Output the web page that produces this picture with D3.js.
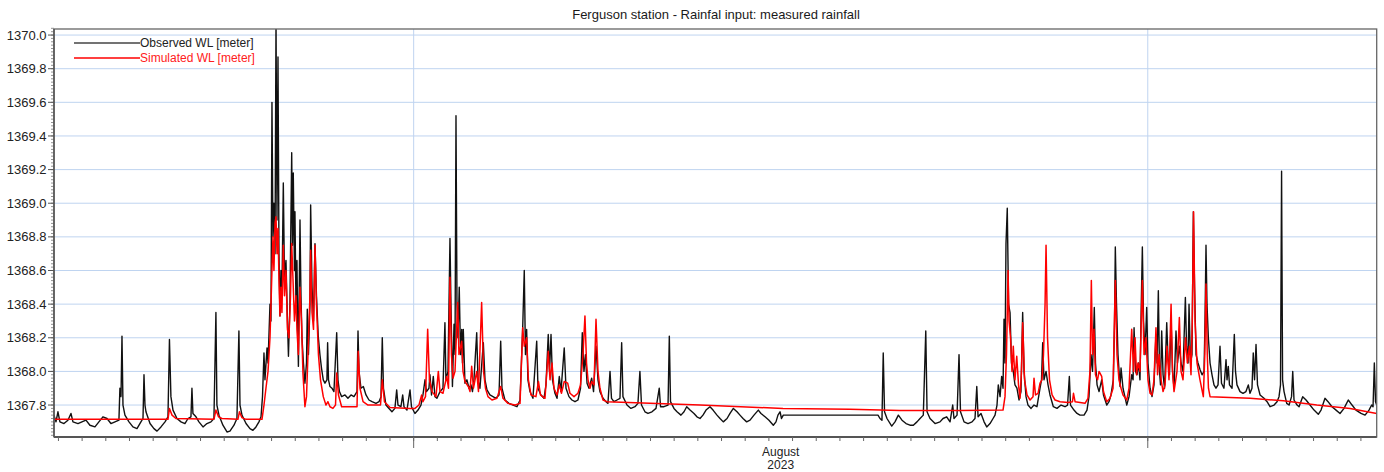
<!DOCTYPE html>
<meta charset="utf-8">
<head>
  <title>Ferguson station - Rainfal input: measured rainfall</title>
</head>
<script src="https://d3js.org/d3.v7.min.js"></script>
<style>
  body { margin: 0; background: #fff; }
  svg text { font-family: "Liberation Sans", Arial, sans-serif; }
</style>
<div id="chart"></div>
<script>

// time of each reading in hours after 2023-07-16 00:00, water level in meters
var obsHours = [19.5,21.5,23.5,25.5,29.6,33.6,36.7,38.7,43.8,47.8,51.9,55.9,61.0,65.0,69.1,73.2,77.2,81.3,85.3,86.3,87.4,88.4,89.4,91.4,95.5,99.5,103.6,107.6,109.7,110.7,111.7,112.7,116.8,120.8,123.9,127.9,132.0,135.0,136.5,138.0,140.1,144.1,148.2,152.2,155.3,158.3,159.3,160.3,163.4,166.4,170.5,174.5,178.6,181.6,183.6,184.6,186.7,190.7,194.8,197.8,201.9,204.9,206.9,208.0,210.0,214.1,218.1,221.1,224.2,227.2,229.3,230.8,232.3,233.3,235.4,236.4,238.4,239.4,240.4,241.4,242.4,243.5,244.5,245.5,246.5,247.5,248.5,249.5,250.5,251.9,253.1,254.6,256.1,257.1,258.6,260.4,261.2,262.0,263.2,263.7,264.7,265.7,266.7,267.2,268.8,269.8,270.8,272.3,273.8,275.4,276.2,277.4,278.9,279.6,281.0,282.5,284.0,285.5,287.3,289.0,290.6,292.4,294.1,296.1,296.8,297.7,299.2,301.2,303.2,306.0,307.3,308.8,311.0,314.4,317.4,320.5,323.5,326.6,327.6,328.6,330.6,333.0,335.7,338.7,341.8,345.8,348.9,350.9,352.2,353.4,355.9,359.0,362.0,365.0,366.8,368.1,371.1,372.9,374.2,377.2,380.3,381.8,385.3,388.4,391.4,393.4,395.5,397.0,399.5,400.5,402.1,403.9,405.6,407.6,410.7,413.7,415.7,416.7,418.8,420.8,421.8,423.3,424.9,425.9,426.9,427.9,428.9,430.2,431.5,432.7,433.5,434.3,436.0,438.0,440.1,442.1,443.6,445.1,447.9,449.2,451.2,454.6,456.3,458.3,461.3,464.4,467.4,470.5,472.2,473.5,476.5,480.6,484.7,488.7,491.8,494.5,496.1,497.3,498.5,499.8,501.9,504.9,508.7,510.0,513.0,516.1,518.1,520.4,521.7,523.2,524.7,527.2,529.3,531.6,533.3,536.6,538.4,541.4,544.4,547.5,550.5,553.1,554.9,556.6,558.1,559.7,561.7,564.4,566.3,568.8,570.8,572.8,575.9,578.9,580.9,583.0,584.5,587.0,590.1,593.1,594.8,596.1,600.2,604.2,608.3,611.3,613.3,614.9,618.4,621.5,625.5,629.6,632.9,634.2,637.7,641.8,643.1,644.3,647.8,650.9,654.9,658.0,660.7,664.1,668.1,671.1,674.2,677.2,680.3,684.3,687.4,691.4,694.5,697.8,701.6,704.6,708.0,711.7,714.7,717.8,721.5,724.9,728.9,733.3,736.0,740.1,744.1,748.5,751.2,753.2,755.3,756.8,758.6,854.6,856.6,858.6,859.9,861.2,863.7,868.5,871.8,875.2,878.9,883.0,887.0,890.4,894.1,897.2,900.5,903.0,904.3,907.3,912.4,917.4,920.5,924.2,927.6,930.3,931.6,934.7,936.7,938.2,941.8,945.8,949.9,952.9,954.7,956.0,959.0,962.1,964.8,968.1,971.2,973.2,975.2,976.5,978.3,979.9,981.3,982.3,983.3,984.3,985.6,986.9,988.4,989.9,991.7,993.4,995.4,997.5,999.5,1001.2,1002.6,1004.6,1006.6,1009.7,1012.7,1015.7,1018.8,1020.3,1021.5,1022.8,1024.9,1026.9,1028.9,1032.3,1036.0,1040.1,1044.1,1046.7,1048.5,1049.7,1053.2,1056.3,1059.3,1063.4,1066.4,1068.4,1070.5,1072.0,1073.8,1075.0,1076.6,1078.6,1081.3,1083.1,1086.4,1088.7,1090.7,1093.1,1094.3,1095.1,1096.3,1097.8,1099.9,1100.9,1102.9,1106.7,1109.0,1111.7,1113.1,1114.1,1115.6,1117.1,1118.6,1120.1,1121.4,1122.5,1123.7,1125.2,1126.9,1128.2,1130.3,1132.3,1134.3,1136.3,1137.4,1138.7,1139.9,1140.9,1142.1,1143.5,1145.0,1147.2,1148.5,1150.0,1151.6,1153.1,1154.6,1156.6,1158.1,1160.0,1161.7,1163.7,1166.1,1167.3,1168.8,1169.8,1171.3,1172.8,1174.2,1175.4,1176.9,1178.9,1181.0,1183.0,1185.0,1186.0,1187.0,1188.0,1189.4,1191.1,1193.1,1195.1,1197.1,1199.2,1201.2,1202.7,1205.2,1207.3,1208.3,1209.6,1210.8,1213.4,1215.7,1216.9,1218.4,1221.5,1224.5,1227.5,1229.9,1231.6,1233.6,1234.9,1236.2,1237.7,1239.2,1241.8,1245.8,1248.9,1251.9,1256.0,1259.0,1261.0,1262.5,1263.6,1264.6,1266.1,1268.8,1271.2,1273.7,1274.9,1276.2,1279.3,1281.3,1285.0,1288.4,1292.4,1296.5,1300.8,1303.6,1307.6,1310.7,1314.7,1318.8,1322.8,1326.9,1331.2,1335.0,1339.0,1344.1,1348.2,1352.2,1354.9,1356.3,1357.6,1358.8,1360.0];
var obsLevel = [1367.74,1367.70,1367.76,1367.70,1367.69,1367.71,1367.75,1367.70,1367.69,1367.70,1367.71,1367.68,1367.67,1367.70,1367.73,1367.72,1367.69,1367.70,1367.71,1367.90,1367.85,1368.21,1367.80,1367.74,1367.70,1367.67,1367.66,1367.70,1367.72,1367.98,1367.80,1367.76,1367.69,1367.66,1367.645,1367.67,1367.70,1367.73,1368.19,1367.85,1367.77,1367.72,1367.70,1367.69,1367.72,1367.73,1367.90,1367.75,1367.73,1367.70,1367.67,1367.69,1367.70,1367.72,1368.35,1367.80,1367.74,1367.68,1367.64,1367.645,1367.68,1367.72,1368.24,1367.80,1367.74,1367.69,1367.66,1367.65,1367.67,1367.70,1367.73,1367.85,1368.11,1367.95,1368.14,1368.05,1368.40,1368.30,1369.60,1368.80,1369.00,1368.70,1370.10,1368.90,1369.87,1368.70,1368.33,1368.60,1368.45,1369.12,1368.55,1368.66,1368.30,1368.09,1368.40,1369.30,1368.75,1369.18,1368.60,1368.95,1368.40,1368.66,1368.20,1368.03,1368.90,1368.45,1368.20,1368.05,1367.93,1368.05,1368.37,1368.10,1368.40,1368.99,1368.50,1368.30,1368.76,1368.45,1368.21,1368.10,1368.02,1367.95,1367.93,1367.95,1368.17,1367.95,1367.91,1367.90,1367.88,1368.23,1367.95,1367.88,1367.85,1367.86,1367.84,1367.86,1367.85,1367.88,1368.24,1368.00,1367.90,1367.91,1367.86,1367.83,1367.82,1367.81,1367.82,1367.85,1368.20,1367.90,1367.80,1367.78,1367.76,1367.78,1367.89,1367.80,1367.79,1367.86,1367.79,1367.77,1367.89,1367.79,1367.75,1367.77,1367.80,1367.86,1367.95,1367.88,1367.90,1367.98,1367.86,1367.97,1367.85,1367.84,1367.88,1367.90,1368.29,1367.95,1368.00,1368.79,1368.40,1367.91,1368.28,1368.10,1369.52,1368.40,1368.20,1368.50,1368.10,1368.25,1368.05,1368.25,1367.93,1367.95,1367.90,1367.92,1367.88,1367.95,1368.23,1367.95,1367.90,1368.17,1367.95,1367.89,1367.86,1367.85,1367.84,1367.86,1368.18,1367.90,1367.83,1367.81,1367.80,1367.79,1367.83,1368.26,1368.60,1368.10,1368.25,1367.95,1367.88,1367.84,1368.18,1367.90,1367.86,1367.84,1367.92,1368.22,1368.00,1368.22,1367.95,1367.87,1367.84,1367.97,1367.88,1368.14,1367.90,1367.85,1367.83,1367.82,1367.83,1367.90,1368.23,1368.00,1368.10,1367.93,1367.90,1367.96,1367.88,1368.15,1367.95,1367.88,1367.84,1367.82,1367.81,1368.00,1367.84,1367.82,1367.83,1367.84,1368.17,1367.85,1367.80,1367.78,1367.79,1367.81,1368.00,1367.80,1367.76,1367.75,1367.76,1367.78,1367.90,1367.79,1367.79,1367.80,1368.21,1367.82,1367.78,1367.76,1367.74,1367.76,1367.79,1367.77,1367.75,1367.73,1367.72,1367.74,1367.77,1367.79,1367.77,1367.74,1367.72,1367.70,1367.72,1367.75,1367.78,1367.76,1367.74,1367.72,1367.70,1367.71,1367.74,1367.77,1367.75,1367.73,1367.71,1367.68,1367.70,1367.74,1367.76,1367.72,1367.74,1367.74,1367.72,1367.71,1368.11,1367.76,1367.72,1367.675,1367.70,1367.74,1367.71,1367.69,1367.68,1367.68,1367.70,1367.72,1367.74,1368.24,1367.76,1367.72,1367.69,1367.70,1367.72,1367.73,1367.70,1367.80,1367.72,1367.74,1368.10,1367.76,1367.70,1367.69,1367.70,1367.72,1367.91,1367.73,1367.75,1367.70,1367.67,1367.69,1367.72,1367.74,1367.80,1367.92,1367.85,1367.97,1367.90,1368.31,1368.05,1368.76,1368.97,1368.40,1368.35,1368.05,1368.00,1367.92,1367.90,1367.83,1367.88,1368.35,1368.00,1367.85,1367.80,1367.78,1367.80,1367.79,1367.90,1367.95,1368.17,1367.95,1368.00,1367.92,1367.86,1367.79,1367.78,1367.80,1367.79,1367.80,1367.97,1367.80,1367.77,1367.75,1367.74,1367.74,1367.77,1367.85,1368.10,1368.00,1368.38,1368.05,1367.92,1367.88,1367.95,1367.86,1367.80,1367.82,1367.86,1367.95,1368.30,1368.74,1368.40,1368.10,1367.91,1368.02,1367.90,1367.80,1367.85,1367.98,1367.95,1368.26,1368.00,1367.98,1368.05,1367.95,1368.40,1368.74,1368.30,1368.10,1368.38,1368.05,1367.90,1367.85,1367.92,1368.22,1368.05,1368.48,1368.00,1367.92,1368.24,1367.98,1367.90,1368.29,1368.08,1367.98,1368.30,1368.00,1367.90,1368.24,1368.05,1368.15,1368.05,1368.00,1368.44,1368.15,1368.05,1368.40,1368.05,1368.10,1368.95,1368.50,1368.10,1368.05,1368.01,1367.98,1368.00,1368.30,1368.75,1368.40,1368.20,1368.05,1367.98,1367.92,1367.90,1367.92,1368.15,1367.93,1367.90,1368.07,1367.95,1368.03,1367.92,1367.90,1368.22,1368.00,1367.92,1367.88,1367.87,1367.88,1367.92,1367.87,1367.90,1368.11,1367.95,1368.16,1367.92,1367.86,1367.84,1367.82,1367.79,1367.80,1367.82,1367.85,1367.92,1369.19,1367.95,1367.88,1367.81,1367.80,1367.85,1368.00,1367.83,1367.80,1367.79,1367.85,1367.83,1367.80,1367.77,1367.745,1367.77,1367.84,1367.82,1367.79,1367.77,1367.75,1367.78,1367.83,1367.80,1367.77,1367.75,1367.74,1367.77,1367.80,1367.79,1368.05,1367.82,1367.80];

var simHours = [19.5,135.0,136.5,139.1,143.1,181.6,183.6,186.2,189.7,205.9,207.4,210.0,214.1,230.3,232.3,234.3,236.4,238.4,239.9,241.4,242.4,243.5,244.5,245.5,246.5,247.5,248.5,249.5,250.5,251.9,253.1,254.6,256.1,257.6,259.2,260.4,261.7,263.2,264.7,265.7,267.2,268.8,270.3,271.8,273.8,275.4,276.9,278.9,279.6,281.0,282.5,284.0,285.5,287.5,289.6,292.4,295.1,297.1,299.2,302.2,304.8,306.0,307.8,311.0,326.6,327.8,329.6,332.7,337.7,350.4,352.2,354.4,360.0,380.3,385.3,389.4,392.1,393.4,396.0,398.2,400.0,402.6,406.6,409.0,410.7,413.7,417.5,419.3,420.8,422.3,423.9,425.9,428.6,429.9,432.7,434.0,436.0,439.4,441.1,442.8,444.6,447.9,449.7,452.9,454.8,456.8,459.3,463.4,468.4,472.2,474.5,479.6,486.7,491.8,494.5,496.1,498.5,500.3,502.9,507.9,510.5,512.5,517.1,520.4,522.2,524.2,526.2,529.3,531.6,533.8,536.6,540.1,542.4,546.5,550.5,553.1,555.6,557.6,559.2,560.7,562.7,564.4,566.8,568.8,570.8,572.8,575.9,579.9,623.5,674.2,758.3,826.2,876.9,937.7,981.3,983.3,984.8,986.4,987.4,988.9,990.4,991.7,993.4,995.2,997.0,998.5,1000.0,1001.2,1003.1,1005.6,1008.7,1011.7,1012.7,1014.2,1016.8,1018.8,1020.8,1022.3,1023.9,1024.9,1026.4,1028.4,1031.0,1034.0,1039.1,1047.2,1051.7,1052.7,1054.3,1064.4,1067.4,1069.4,1070.8,1072.0,1073.5,1075.0,1077.1,1078.6,1081.3,1083.1,1086.4,1089.7,1092.8,1095.1,1096.8,1098.8,1100.9,1102.9,1106.7,1109.0,1111.7,1113.6,1115.1,1116.6,1118.1,1120.1,1122.5,1124.2,1126.2,1128.2,1130.3,1132.3,1134.3,1136.3,1137.9,1139.4,1141.5,1143.5,1145.5,1147.5,1149.5,1151.6,1153.1,1154.6,1157.6,1160.0,1161.7,1163.7,1166.3,1168.1,1170.3,1171.8,1173.1,1174.4,1175.9,1177.9,1180.9,1184.3,1185.8,1187.0,1188.3,1189.5,1191.1,1231.6,1265.4,1299.3,1333.0,1360.0];
var simLevel = [1367.715,1367.715,1367.78,1367.74,1367.72,1367.715,1367.77,1367.73,1367.72,1367.715,1367.76,1367.725,1367.715,1367.715,1367.80,1367.90,1368.00,1368.20,1368.50,1368.80,1368.60,1368.88,1368.92,1368.70,1368.85,1368.55,1368.33,1368.50,1368.35,1368.75,1368.45,1368.60,1368.25,1368.20,1368.45,1368.76,1368.55,1368.30,1368.45,1368.25,1368.10,1368.50,1368.30,1367.99,1367.79,1367.85,1368.10,1368.45,1368.72,1368.35,1368.25,1368.75,1368.40,1368.10,1367.95,1367.85,1367.80,1367.82,1367.79,1367.78,1367.80,1367.99,1367.86,1367.79,1367.79,1368.12,1367.90,1367.82,1367.80,1367.80,1367.95,1367.82,1367.785,1367.78,1367.78,1367.80,1367.86,1367.82,1367.85,1368.25,1367.95,1367.88,1367.85,1368.00,1367.88,1367.87,1367.97,1367.90,1368.56,1368.10,1367.96,1368.00,1368.41,1368.10,1368.18,1368.00,1367.94,1367.91,1367.88,1368.03,1367.90,1368.00,1367.88,1368.41,1368.00,1367.90,1367.85,1367.83,1367.84,1367.91,1367.84,1367.81,1367.80,1367.81,1368.26,1368.15,1368.20,1367.95,1367.86,1367.85,1367.94,1367.86,1367.84,1368.12,1367.95,1368.05,1367.90,1367.86,1367.92,1367.87,1367.94,1367.93,1367.87,1367.85,1367.87,1367.92,1368.10,1368.33,1368.05,1367.95,1367.90,1367.94,1367.92,1368.31,1368.00,1367.90,1367.83,1367.82,1367.81,1367.80,1367.78,1367.775,1367.767,1367.767,1367.77,1367.85,1368.10,1368.60,1368.30,1368.20,1368.00,1368.15,1367.95,1368.09,1367.92,1367.84,1368.00,1368.29,1367.95,1367.86,1367.83,1367.85,1367.96,1367.86,1367.87,1367.93,1367.95,1368.10,1368.40,1368.75,1368.20,1367.95,1367.86,1367.83,1367.82,1367.815,1367.82,1367.87,1367.82,1367.81,1367.84,1368.00,1368.54,1368.10,1368.25,1367.98,1367.95,1368.00,1367.97,1367.88,1367.82,1367.84,1367.90,1368.54,1368.10,1367.95,1367.90,1367.86,1367.83,1367.90,1368.25,1368.00,1368.20,1367.98,1368.05,1368.00,1368.54,1368.10,1368.20,1367.95,1367.87,1367.86,1367.95,1368.26,1367.98,1368.10,1367.95,1367.88,1367.92,1368.15,1367.95,1368.40,1368.00,1367.88,1368.00,1368.32,1368.00,1367.95,1368.20,1368.05,1368.15,1367.98,1368.30,1368.95,1368.30,1368.05,1367.95,1367.85,1368.10,1368.52,1368.10,1367.90,1367.85,1367.84,1367.825,1367.80,1367.78,1367.75];

var yTicks = [1367.8, 1368.0, 1368.2, 1368.4, 1368.6, 1368.8, 1369.0, 1369.2, 1369.4, 1369.6, 1369.8, 1370.0];
var seriesNames = ["Observed WL [meter]", "Simulated WL [meter]"];
var seriesColors = ["#111111", "#ff0000"];
var titleText = "Ferguson station - Rainfal input: measured rainfall";

var start = Date.UTC(2023, 6, 16);
function toDate(h) { return new Date(start + h * 3600e3); }

var observed = obsHours.map(function(h, i) { return {t: toDate(h), v: obsLevel[i]}; });
var simulated = simHours.map(function(h, i) { return {t: toDate(h), v: simLevel[i]}; });

var W = 1384, H = 472;
var margin = {top: 29, right: 7.3, bottom: 35, left: 54};
var width = W - margin.left - margin.right,
    height = H - margin.top - margin.bottom;

var svg = d3.select("#chart").append("svg")
    .attr("width", W).attr("height", H);

svg.append("text")
  .attr("x", 716).attr("y", 19)
  .attr("text-anchor", "middle")
  .style("font-size", "13px")
  .attr("fill", "#1a1a1a")
  .text(titleText);

var g = svg.append("g")
  .attr("transform", "translate(" + margin.left + "," + margin.top + ")");

var x = d3.scaleUtc()
  .domain([toDate(19.5), toDate(1360)])
  .range([0, width]);
var y = d3.scaleLinear()
  .domain([1367.61, 1370.036])
  .range([height, 0]);

// grid
g.append("g").selectAll("line")
  .data(yTicks).enter().append("line")
    .attr("x1", 0).attr("x2", width)
    .attr("y1", function(d) { return y(d); })
    .attr("y2", function(d) { return y(d); })
    .attr("stroke", "#bfd4f0").attr("stroke-width", 1);
var months = d3.utcMonth.range(x.domain()[0], x.domain()[1]);
g.append("g").selectAll("line")
  .data(months).enter().append("line")
    .attr("x1", function(d) { return x(d); })
    .attr("x2", function(d) { return x(d); })
    .attr("y1", 0).attr("y2", height)
    .attr("stroke", "#bfd4f0").attr("stroke-width", 1);

// series
g.append("clipPath").attr("id", "plotclip")
  .append("rect").attr("width", width).attr("height", height);

var line = d3.line()
  .x(function(d) { return x(d.t); })
  .y(function(d) { return y(d.v); });

g.append("path").datum(observed)
  .attr("clip-path", "url(#plotclip)")
  .attr("fill", "none")
  .attr("stroke", seriesColors[0])
  .attr("stroke-width", 1.4)
  .attr("stroke-linejoin", "round")
  .attr("d", line);
g.append("path").datum(simulated)
  .attr("clip-path", "url(#plotclip)")
  .attr("fill", "none")
  .attr("stroke", seriesColors[1])
  .attr("stroke-width", 1.5)
  .attr("stroke-linejoin", "round")
  .attr("d", line);

// frame
g.append("rect")
  .attr("width", width).attr("height", height)
  .attr("fill", "none").attr("stroke", "#666").attr("stroke-width", 1.3);

// y axis
var yAxis = g.append("g");
var minorY = d3.range(1367.62, 1370.04, 0.02);
yAxis.selectAll("line.minor")
  .data(minorY).enter().append("line")
    .attr("x1", -3).attr("x2", 0)
    .attr("y1", function(d) { return y(d); })
    .attr("y2", function(d) { return y(d); })
    .attr("stroke", "#777").attr("stroke-width", 0.8);
yAxis.selectAll("line.major")
  .data(yTicks).enter().append("line")
    .attr("x1", -6).attr("x2", 0)
    .attr("y1", function(d) { return y(d); })
    .attr("y2", function(d) { return y(d); })
    .attr("stroke", "#555").attr("stroke-width", 1);
yAxis.selectAll("text")
  .data(yTicks).enter().append("text")
    .attr("x", -7.5)
    .attr("y", function(d) { return y(d); })
    .attr("dy", "0.35em")
    .attr("text-anchor", "end")
    .style("font-size", "13px")
    .attr("fill", "#222")
    .text(d3.format(".1f"));
yAxis.append("line")
  .attr("x1", 0).attr("x2", 0).attr("y1", 0).attr("y2", height)
  .attr("stroke", "#555").attr("stroke-width", 1.5);

// x axis
var xAxis = g.append("g").attr("transform", "translate(0," + height + ")");
xAxis.append("line")
  .attr("x1", 0).attr("x2", width)
  .attr("stroke", "#555").attr("stroke-width", 1.8);
xAxis.selectAll("line.day")
  .data(d3.utcDay.range(x.domain()[0], x.domain()[1])).enter().append("line")
    .attr("x1", function(d) { return x(d); })
    .attr("x2", function(d) { return x(d); })
    .attr("y1", 0).attr("y2", 4)
    .attr("stroke", "#666").attr("stroke-width", 1);
xAxis.selectAll("line.month")
  .data(months).enter().append("line")
    .attr("x1", function(d) { return x(d); })
    .attr("x2", function(d) { return x(d); })
    .attr("y1", 0).attr("y2", 11)
    .attr("stroke", "#666").attr("stroke-width", 1);
var mid = new Date(Date.UTC(2023, 7, 16, 12));
var lab = xAxis.append("text")
  .attr("x", x(mid)).attr("y", 19)
  .attr("text-anchor", "middle")
  .style("font-size", "12px")
  .attr("fill", "#222");
lab.append("tspan").attr("x", x(mid)).text("August");
lab.append("tspan").attr("x", x(mid)).attr("dy", 12.5).text("2023");

// legend
var legend = g.selectAll("g.legend")
  .data(seriesNames).enter().append("g")
    .attr("transform", function(d, i) { return "translate(20," + (14 + i * 15) + ")"; });
legend.append("line")
  .attr("x1", 0).attr("x2", 66)
  .attr("stroke", function(d, i) { return i == 0 ? "#444" : seriesColors[i]; })
  .attr("stroke-width", 1.4);
legend.append("text")
  .attr("x", 66).attr("dy", "0.35em")
  .style("font-size", "12px")
  .attr("fill", function(d, i) { return i == 0 ? "#222" : "#ff2020"; })
  .text(function(d) { return d; });

</script>
